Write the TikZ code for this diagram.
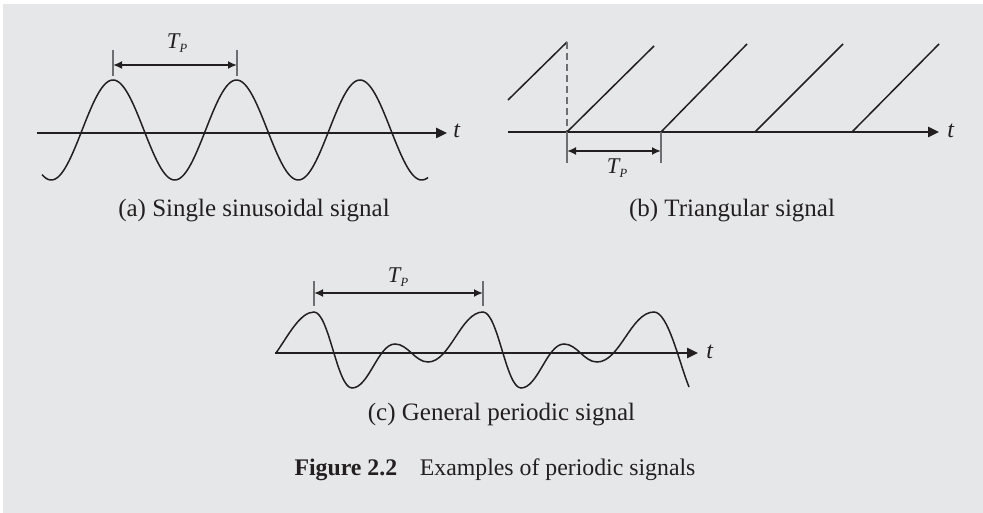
\documentclass[tikz,border=0pt]{standalone}
\usepackage{fontspec}
\setmainfont{Liberation Serif}
\usetikzlibrary{arrows.meta}
\definecolor{bg}{HTML}{E6E7E8}
\definecolor{ink}{HTML}{231F20}
\definecolor{tickc}{HTML}{6D6E71}
\newcommand\TPlabel{\textit{T}\kern-1pt\raisebox{-0.45ex}{\fontsize{12.5}{12.5}\selectfont\textit{P}}}
\begin{document}
\begin{tikzpicture}[x=1pt,y=-1pt,
  axisline/.style={draw=ink, line width=2.4pt, -{Triangle[length=11pt,width=10pt]}},
  sigline/.style={draw=ink, line width=1.5pt},
  dimline/.style={draw=ink, line width=2.2pt, {Latex[length=9pt,width=8pt]}-{Latex[length=9pt,width=8pt]}},
  tickline/.style={draw=tickc, line width=1.2pt},
  dashline/.style={draw=tickc, line width=1.6pt, dash pattern=on 7pt off 4pt},
  lbl/.style={font=\fontsize{24}{28}\selectfont, text=ink, inner sep=0pt},
  tplbl/.style={font=\fontsize{22.5}{26}\selectfont, text=ink, inner sep=0pt},
  caplbl/.style={font=\fontsize{25}{28}\selectfont, text=ink, inner sep=0pt, anchor=base},
  figcap/.style={font=\fontsize{23.8}{28}\selectfont, text=ink, inner sep=0pt, anchor=base}
]
\useasboundingbox (0,0) rectangle (983,513);
\fill[white] (0,0) rectangle (983,513);
\fill[bg] (3,4) rectangle (983,513);

% ---------- (a) sinusoid ----------
\coordinate (aS) at (37,133);
\coordinate (aE) at (447,133);
\draw[sigline] plot[domain=42:428, samples=240, smooth] (\x, {130 - 50*cos(2.91498*(\x-113))});
\draw[axisline] (aS) -- (aE);
\node[lbl] (at) at (457,131) {\textit{t}};
\coordinate (aT1a) at (113,50); \coordinate (aT1b) at (113,76);
\coordinate (aT2a) at (237,50); \coordinate (aT2b) at (237,76);
\draw[tickline] (aT1a) -- (aT1b);
\draw[tickline] (aT2a) -- (aT2b);
\coordinate (aD1) at (113,65); \coordinate (aD2) at (237,65);
\draw[dimline] (aD1) -- (aD2);
\node[tplbl] (aTP) at (177,43) {\TPlabel};
\node[caplbl] (capa) at (254,217) {(a) Single sinusoidal signal};

% ---------- (b) sawtooth ----------
\coordinate (bS) at (508,132);
\coordinate (bE) at (939,132);
\draw[axisline] (bS) -- (bE);
\node[lbl] (bt) at (951,131) {\textit{t}};
\coordinate (r0a) at (508,100); \coordinate (r0b) at (567,42);
\coordinate (r1a) at (567,132); \coordinate (r1b) at (654,46);
\coordinate (r2a) at (661,132); \coordinate (r2b) at (747,44);
\coordinate (r3a) at (755,132); \coordinate (r3b) at (843,44);
\coordinate (r4a) at (852,132); \coordinate (r4b) at (939,44);
\draw[sigline] (r0a) -- (r0b);
\draw[dashline] (r0b) -- (r1a);
\draw[sigline] (r1a) -- (r1b);
\draw[sigline] (r2a) -- (r2b);
\draw[sigline] (r3a) -- (r3b);
\draw[sigline] (r4a) -- (r4b);
\coordinate (bT1b) at (567,163); \coordinate (bT2b) at (661,163);
\draw[tickline] (r1a) -- (bT1b);
\draw[tickline] (r2a) -- (bT2b);
\coordinate (bD1) at (567,151); \coordinate (bD2) at (661,151);
\draw[dimline] (bD1) -- (bD2);
\node[tplbl] (bTP) at (617,168) {\TPlabel};
\node[caplbl] (capb) at (732,217) {(b) Triangular signal};

% ---------- (c) general periodic ----------
\coordinate (cS) at (275,353);
\coordinate (cE) at (698,353);
\draw[sigline] (276,353) .. controls (288,336) and (300,312) .. (314,312)
  .. controls (329,312) and (337,388) .. (352,388)
  .. controls (369,388) and (378,344) .. (395,344)
  .. controls (408,344) and (415,362) .. (428,362)
  .. controls (450,362) and (461,312) .. (483,312)
  .. controls (498,312) and (506,388) .. (521,388)
  .. controls (538,388) and (547,344) .. (564,344)
  .. controls (577,344) and (584,362) .. (597,362)
  .. controls (620,362) and (631,312) .. (654,312)
  .. controls (668,312) and (679,362) .. (689,387);
\draw[axisline] (cS) -- (cE);
\node[lbl] (ct) at (710,352) {\textit{t}};
\coordinate (cT1a) at (314,281); \coordinate (cT1b) at (314,306);
\coordinate (cT2a) at (483,281); \coordinate (cT2b) at (483,306);
\draw[tickline] (cT1a) -- (cT1b);
\draw[tickline] (cT2a) -- (cT2b);
\coordinate (cD1) at (314,293); \coordinate (cD2) at (483,293);
\draw[dimline] (cD1) -- (cD2);
\node[tplbl] (cTP) at (398,277) {\TPlabel};
\node[caplbl] (capc) at (501.5,420) {(c) General periodic signal};

% ---------- figure caption ----------
\node[figcap] (fig) at (495,475) {\textbf{Figure 2.2}\hspace{0.95em}Examples of periodic signals};
\end{tikzpicture}
\end{document}
